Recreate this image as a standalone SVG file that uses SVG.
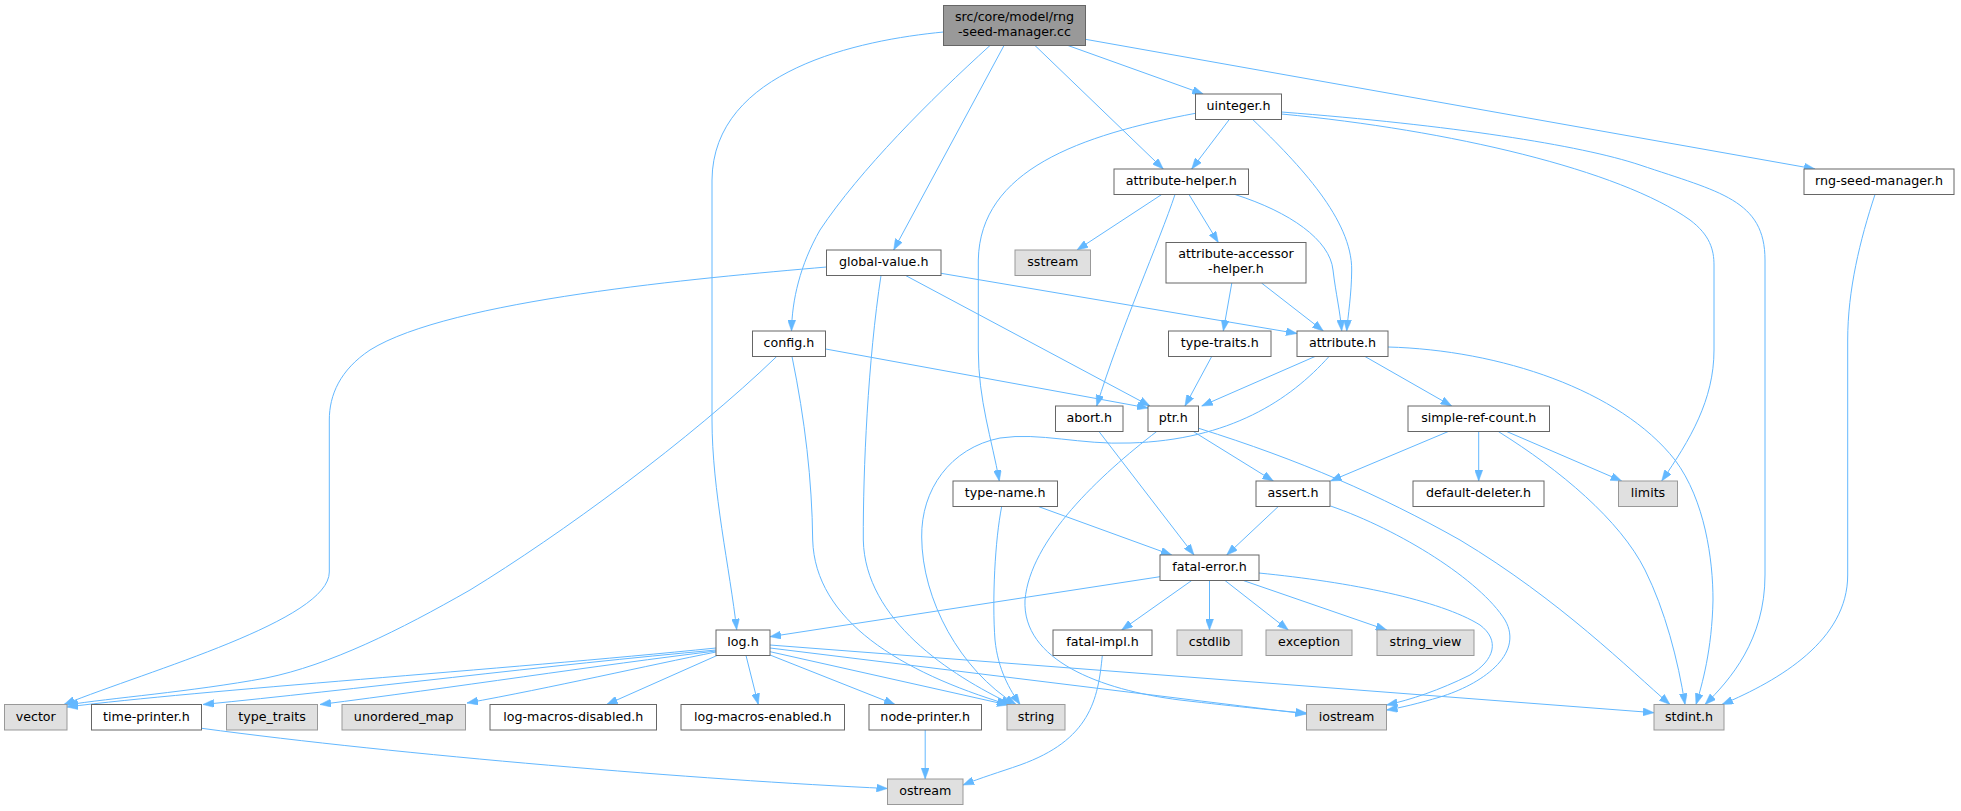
<svg xmlns="http://www.w3.org/2000/svg" width="1961" height="811" viewBox="0 0 1961 811">
<style>
.n rect{fill:#ffffff;stroke:#666666;stroke-width:1}
.g rect{fill:#e0e0e0;stroke:#999999;stroke-width:1}
.m rect{fill:#999999;stroke:#666666;stroke-width:1}
text{font-family:"DejaVu Sans","Liberation Sans",sans-serif;font-size:12.67px;fill:#000000;text-anchor:middle}
#edges path{fill:none;stroke:#63b8ff;stroke-width:1;marker-end:url(#arr)}
</style>
<defs>
<marker id="arr" markerUnits="userSpaceOnUse" viewBox="0 0 11 8" refX="11" refY="4" markerWidth="11" markerHeight="8" orient="auto">
<path d="M0,0 L11,4 L0,8 z" fill="#63b8ff" stroke="#63b8ff" stroke-width="0.5"/>
</marker>
</defs>
<rect x="0" y="0" width="1961" height="811" fill="#ffffff"/>
<g id="edges">
<path d="M943.5,32 C860,40 713,70 712,180 L712,420 C712,490 730,570 736.7,629.7"/>
<path d="M990,45.5 C930,100 860,170 820,230 C800,265 792,300 791.5,331"/>
<path d="M1004,45.5 L893.7,250"/>
<path d="M1035,45.5 L1163.3,169"/>
<path d="M1068,45.5 L1203.3,94"/>
<path d="M1085.5,39.3 L1815,169"/>
<path d="M1229.3,119.5 L1191.7,169"/>
<path d="M1252.7,119.5 C1300,165 1352,220 1351.7,270 C1351.5,295 1348,315 1346.7,331"/>
<path d="M1195.5,113.3 C1080,135 980,170 978.3,260 L978.3,350 C978.3,400 992,440 999.3,481"/>
<path d="M1281.5,114 C1450,130 1620,170 1690,220 C1710,235 1714,250 1714,265 L1714,350 C1714,400 1690,440 1661.7,481"/>
<path d="M1281.5,112 C1450,125 1580,145 1640,165 C1720,192 1765,200 1765,260 L1765,575 C1765,640 1730,680 1705,704.5"/>
<path d="M1161.7,194.5 L1077,250"/>
<path d="M1175,194.5 C1160,240 1120,330 1096.7,406"/>
<path d="M1189,194.5 L1218.3,242.5"/>
<path d="M1235,194.5 C1290,212 1330,240 1333,270 C1336,295 1340,310 1341.7,331"/>
<path d="M1231.8,283 L1223.3,331"/>
<path d="M1261.5,283 L1323.3,331"/>
<path d="M826.5,267 C700,278 450,300 370,350 C340,370 329.3,395 329.3,420 L329.3,572 C329.3,620 150,670 64,704.5"/>
<path d="M881,275.5 C868,360 863,470 863.3,540 C865,620 950,675 1012,704.5"/>
<path d="M905.6,275.5 L1150,406"/>
<path d="M941,273.3 L1297,333.5"/>
<path d="M776.7,356.5 C690,440 560,535 470,590 C400,630 330,665 266,678 C190,692 110,698 67,705"/>
<path d="M792,356.5 C805,420 812,480 812.7,540 C815,620 900,672 1008,704.5"/>
<path d="M825.7,349 L1148,408"/>
<path d="M1211.7,356.5 L1185,406"/>
<path d="M1315,356.5 L1201.7,406"/>
<path d="M1365,356.5 L1451.7,406"/>
<path d="M1388,347 C1500,350 1620,390 1675,460 C1705,500 1713,560 1713,600 C1712,650 1702,685 1696,704.5"/>
<path d="M1329,356.5 C1290,400 1230,440 1130,443 C1080,445 1040,432 1000,438 C950,448 921,490 921.7,537 C922,600 960,670 1016,704.5"/>
<path d="M1099,431.5 L1194,555"/>
<path d="M1193.3,431.5 L1273.3,481"/>
<path d="M1156.7,431.5 C1100,475 1030,540 1025,600 C1022,660 1100,690 1180,700 C1240,707 1280,711 1306.5,713"/>
<path d="M1198.7,428.3 C1300,460 1380,495 1460,540 C1560,600 1630,670 1670,704.5"/>
<path d="M1448.3,431.5 L1330.5,481"/>
<path d="M1478.7,431.5 L1478.7,481"/>
<path d="M1506.7,431.5 L1621.7,481"/>
<path d="M1498.3,431.5 C1560,470 1620,520 1645,570 C1665,610 1678,660 1685,704.5"/>
<path d="M1001.7,506.5 C995,540 992,600 995,640 C998,670 1010,690 1020,704.5"/>
<path d="M1038.3,506.5 L1171.7,555"/>
<path d="M1278.3,506.5 L1226.7,555"/>
<path d="M1330.5,506 C1400,530 1480,580 1505,620 C1525,655 1480,685 1440,697 C1420,703 1400,708 1386.5,710"/>
<path d="M1258.7,573 C1350,582 1440,600 1480,625 C1500,640 1495,660 1470,675 C1440,690 1410,700 1386.5,705"/>
<path d="M1160,576.7 L770,636.7"/>
<path d="M1191.7,580.5 L1121.7,630"/>
<path d="M1209.5,580.5 L1209.5,630"/>
<path d="M1225,580.5 L1288.3,630"/>
<path d="M1243.3,580.5 L1386.7,630"/>
<path d="M1102.3,655.5 C1098,700 1090,740 1020,765 C1000,772 980,778 963,785"/>
<path d="M716,648 C500,670 200,690 67,707"/>
<path d="M716,650 C550,665 350,690 203,704.5"/>
<path d="M716,651 C600,665 450,688 320,704.5"/>
<path d="M716,652 C650,665 550,688 467,703"/>
<path d="M717,655.5 L606.7,704.5"/>
<path d="M746,655.5 L758.3,704.5"/>
<path d="M770,655 L895,704.5"/>
<path d="M770,651.7 L1008,705"/>
<path d="M770,648 L1306.5,714"/>
<path d="M770,645 L1654,712.7"/>
<path d="M201.7,728.3 C400,755 700,780 887.5,788.5"/>
<path d="M925.2,730 L925.2,779"/>
<path d="M1875,194.5 C1860,240 1847.7,290 1847.7,340 L1847.7,575 C1847.7,640 1780,680 1722,704.5"/>
</g>
<g id="node-main" class="m"><rect x="943.5" y="5.5" width="142" height="40"/><text x="1014.5" y="21.3">src/core/model/rng</text><text x="1014.5" y="36.3">-seed-manager.cc</text></g>
<g id="node-uinteger" class="n"><rect x="1195.5" y="94" width="86" height="25.5"/><text x="1238.5" y="110">uinteger.h</text></g>
<g id="node-attribute-helper" class="n"><rect x="1114" y="169" width="134.5" height="25.5"/><text x="1181.25" y="185">attribute-helper.h</text></g>
<g id="node-rng-seed-manager" class="n"><rect x="1804" y="169" width="150" height="25.5"/><text x="1879" y="185">rng-seed-manager.h</text></g>
<g id="node-sstream" class="g"><rect x="1015" y="250" width="75.5" height="25.5"/><text x="1052.75" y="266">sstream</text></g>
<g id="node-attribute-accessor-helper" class="n"><rect x="1166" y="242.5" width="140" height="40.5"/><text x="1236" y="258.3">attribute-accessor</text><text x="1236" y="273.3">-helper.h</text></g>
<g id="node-global-value" class="n"><rect x="826.5" y="250" width="114.5" height="25.5"/><text x="883.75" y="266">global-value.h</text></g>
<g id="node-config" class="n"><rect x="752.5" y="331" width="73" height="25.5"/><text x="789" y="347">config.h</text></g>
<g id="node-type-traits" class="n"><rect x="1168.5" y="331" width="102.5" height="25.5"/><text x="1219.75" y="347">type-traits.h</text></g>
<g id="node-attribute" class="n"><rect x="1297" y="331" width="91" height="25.5"/><text x="1342.5" y="347">attribute.h</text></g>
<g id="node-abort" class="n"><rect x="1055.5" y="406" width="67.5" height="25.5"/><text x="1089.25" y="422">abort.h</text></g>
<g id="node-ptr" class="n"><rect x="1148" y="406" width="50.5" height="25.5"/><text x="1173.25" y="422">ptr.h</text></g>
<g id="node-simple-ref-count" class="n"><rect x="1408" y="406" width="141.5" height="25.5"/><text x="1478.75" y="422">simple-ref-count.h</text></g>
<g id="node-type-name" class="n"><rect x="953" y="481" width="104.5" height="25.5"/><text x="1005.25" y="497">type-name.h</text></g>
<g id="node-assert" class="n"><rect x="1256" y="481" width="74" height="25.5"/><text x="1293" y="497">assert.h</text></g>
<g id="node-default-deleter" class="n"><rect x="1413" y="481" width="131" height="25.5"/><text x="1478.5" y="497">default-deleter.h</text></g>
<g id="node-limits" class="g"><rect x="1618.5" y="481" width="59" height="25.5"/><text x="1648" y="497">limits</text></g>
<g id="node-fatal-error" class="n"><rect x="1160" y="555" width="99" height="25.5"/><text x="1209.5" y="571">fatal-error.h</text></g>
<g id="node-log" class="n"><rect x="716" y="630" width="54" height="25.5"/><text x="743" y="646">log.h</text></g>
<g id="node-fatal-impl" class="n"><rect x="1053" y="630" width="99" height="25.5"/><text x="1102.5" y="646">fatal-impl.h</text></g>
<g id="node-cstdlib" class="g"><rect x="1177" y="630" width="65" height="25.5"/><text x="1209.5" y="646">cstdlib</text></g>
<g id="node-exception" class="g"><rect x="1266" y="630" width="86" height="25.5"/><text x="1309" y="646">exception</text></g>
<g id="node-string-view" class="g"><rect x="1377" y="630" width="97" height="25.5"/><text x="1425.5" y="646">string_view</text></g>
<g id="node-vector" class="g"><rect x="4.5" y="704.5" width="62.5" height="25.5"/><text x="35.75" y="720.5">vector</text></g>
<g id="node-time-printer" class="n"><rect x="91.5" y="704.5" width="110" height="25.5"/><text x="146.5" y="720.5">time-printer.h</text></g>
<g id="node-type-traits-std" class="g"><rect x="226.5" y="704.5" width="91" height="25.5"/><text x="272" y="720.5">type_traits</text></g>
<g id="node-unordered-map" class="g"><rect x="342" y="704.5" width="123.5" height="25.5"/><text x="403.75" y="720.5">unordered_map</text></g>
<g id="node-log-macros-disabled" class="n"><rect x="490" y="704.5" width="166.5" height="25.5"/><text x="573.25" y="720.5">log-macros-disabled.h</text></g>
<g id="node-log-macros-enabled" class="n"><rect x="681" y="704.5" width="163.5" height="25.5"/><text x="762.75" y="720.5">log-macros-enabled.h</text></g>
<g id="node-node-printer" class="n"><rect x="869" y="704.5" width="112.5" height="25.5"/><text x="925.25" y="720.5">node-printer.h</text></g>
<g id="node-string" class="g"><rect x="1007" y="704.5" width="58" height="25.5"/><text x="1036" y="720.5">string</text></g>
<g id="node-iostream" class="g"><rect x="1306.5" y="704.5" width="80" height="25.5"/><text x="1346.5" y="720.5">iostream</text></g>
<g id="node-stdint" class="g"><rect x="1654" y="704.5" width="70" height="25.5"/><text x="1689" y="720.5">stdint.h</text></g>
<g id="node-ostream" class="g"><rect x="887.5" y="779" width="75.5" height="25.5"/><text x="925.25" y="795">ostream</text></g>
</svg>
